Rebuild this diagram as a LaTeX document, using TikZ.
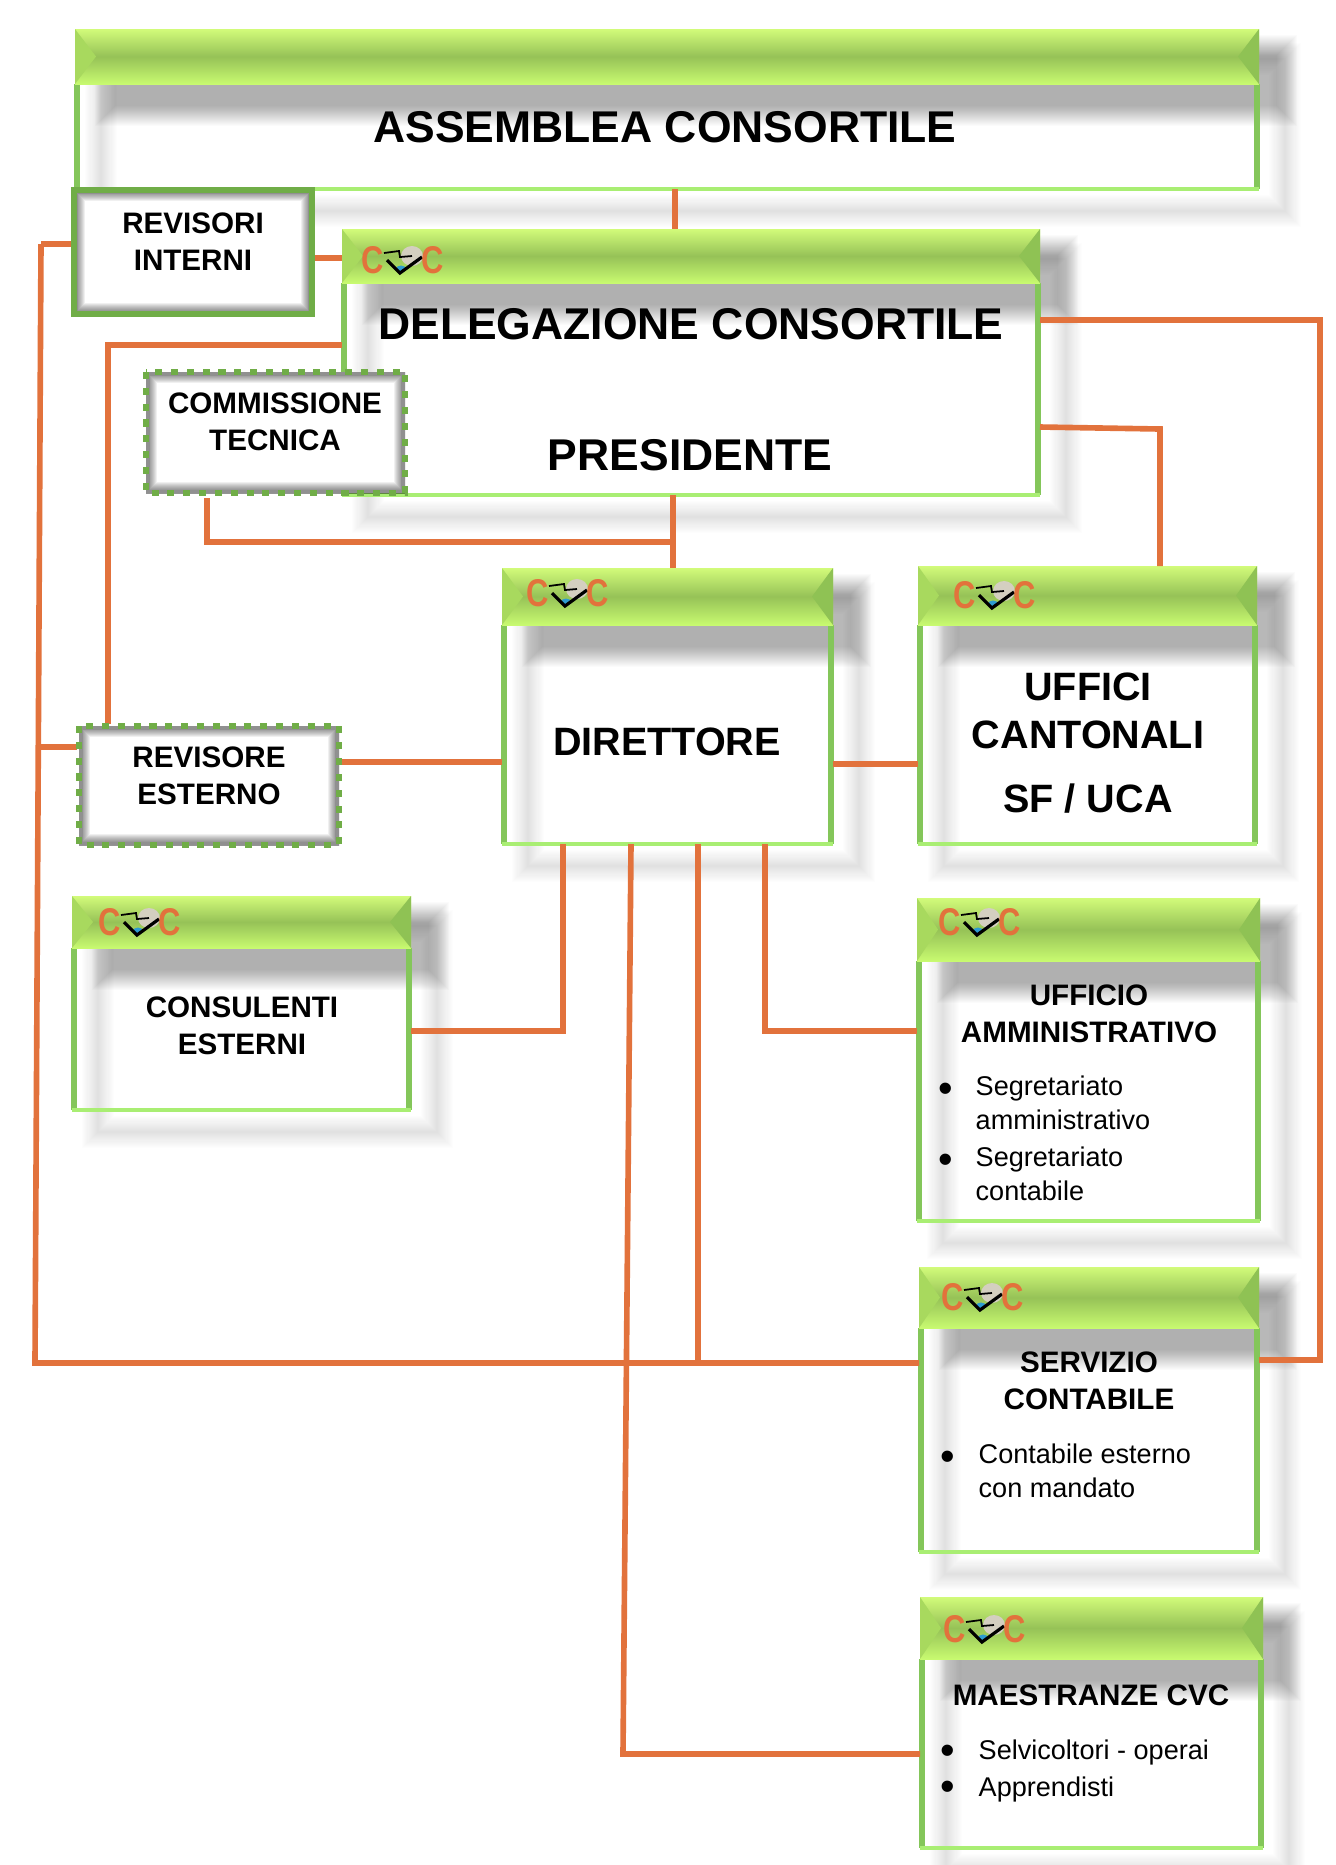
\documentclass[tikz,border=0pt]{standalone}
\usepackage{fontspec}
\setmainfont{Liberation Sans}
\usetikzlibrary{positioning}
\definecolor{linkorange}{HTML}{E2723C}
\definecolor{sidegreen}{HTML}{84C65A}
\definecolor{lowgreen}{HTML}{A9EE73}
\definecolor{framegreen}{HTML}{70AD47}
\definecolor{hdrtop}{HTML}{D2FB7A}
\definecolor{hdrmid}{HTML}{96C257}
\definecolor{hdrlow}{HTML}{C8FA70}
\definecolor{bevelleft}{HTML}{A8D95E}
\definecolor{bevelright}{HTML}{8FC254}
\definecolor{logoblob}{HTML}{D4CFC0}
\definecolor{logoblue}{HTML}{2E9BD0}
\tikzset{
  cvclogo/.pic={
    \fill [logoblob] (9,-4) ellipse (11 and 10);
    \fill [logoblue] (-2,9) ellipse (5 and 3.5);
    \draw [line width=.5pt] (-19,-7) -- (-4,-9) -- (-3,-3) -- (9,-4);
    \draw [line width=.9pt] (-16,0) -- (-3,13) -- (19,-3);
    \node (-cleft) [logoletter] at (-30,0) {C};
    \node (-cright) [logoletter] at (30,0) {C};
  },
  logoletter/.style={text=linkorange, inner sep=0pt, font=\fontsize{11}{12}\bfseries,
         xscale=.8, transform shape}
}
% window: name, left, top, right, bottom of bar, bottom
\newcommand{\winbox}[6]{
  \node (#1) [panel, minimum width={(#4-#2)*0.01cm}, minimum height={(#6-#3)*0.01cm}]
     at ({(#2+#4)/2},{(#3+#6)/2}) {};
  \foreach \w in {0.6,1.2,...,9}
     \draw [black, opacity=.006, line width=\w pt] (#2+26,#3+30) rectangle (#4+26,#6+22);
  \foreach \k in {0,1,...,20}
     \fill [black, opacity=.017] (#2+20+\k,#3+6+\k) rectangle (#4+38-\k,#5+42-\k);
  \draw [sidegreen, line width=1.5pt] (#2+2,#5) -- (#2+2,#6);
  \draw [sidegreen, line width=1.5pt] (#4-2,#5) -- (#4-2,#6);
  \draw [lowgreen, line width=1.4pt] (#1.south west) -- (#1.south east);
  \shade [top color=hdrtop, bottom color=hdrlow, middle color=hdrmid] (#2,#3) rectangle (#4,#5);
  \fill [bevelleft] (#2,#3) -- (#2+21,{(#3+#5)/2}) -- (#2,#5) -- cycle;
  \fill [bevelright] (#4,#3) -- (#4-21,{(#3+#5)/2}) -- (#4,#5) -- cycle;
}
% small box: name, left, top, right, bottom, border style
\newcommand{\glowbox}[6]{
  \node (#1) [panel, minimum width={(#4-#2)*0.01cm}, minimum height={(#5-#3)*0.01cm}]
     at ({(#2+#4)/2},{(#3+#5)/2}) {};
  \begin{scope}
    \clip (#2,#3) rectangle (#4,#5);
    \foreach \w in {2,2.5,...,6}
      \draw [black, opacity=.06, line width=\w pt] (#2,#3) rectangle (#4,#5);
  \end{scope}
  \draw [#6] (#2,#3) rectangle (#4,#5);
}
\begin{document}
\begin{tikzpicture}
  [x=0.01cm, y=-0.01cm,
  panel/.style={fill=white, inner sep=0pt, outer sep=0pt},
  bigcap/.style={font=\fontsize{12.65}{15}\bfseries, align=center, inner sep=0pt},
  midcap/.style={font=\fontsize{11.25}{13.7}\bfseries, align=center, inner sep=0pt},
  smallcap/.style={font=\fontsize{8.42}{10.6}\bfseries, align=center, inner sep=0pt},
  plain/.style={font=\fontsize{7.7}{9.6}\selectfont, align=left, anchor=west, inner sep=0pt},
  dot/.style={font=\fontsize{11.8}{12}\selectfont, anchor=base, inner sep=0pt},
  solidframe/.style={framegreen, line width=1.5pt},
  dashframe/.style={framegreen, line width=1.7pt, dash pattern=on 2pt off 2.5pt}
  ]
  \useasboundingbox (0,0) rectangle (1336,1865);

  \winbox{assemblea}{75}{29}{1259}{84}{189}
  \winbox{delegazione}{342}{229}{1040}{283}{495}
  \winbox{direttore}{502}{568}{833}{625}{844}
  \winbox{uffici}{918}{566}{1257}{625}{844}
  \winbox{consulenti}{72}{896}{411}{948}{1110}
  \winbox{amministrativo}{917}{898}{1260}{961}{1221}
  \winbox{contabile}{919}{1267}{1259}{1328}{1552}
  \winbox{maestranze}{920}{1597}{1263}{1659}{1848}

  \pic (logodel) at (403,260) {cvclogo};
  \pic (logodir) at (568,593) {cvclogo};
  \pic (logouff) at (995,595) {cvclogo};
  \pic (logocon) at (140,922) {cvclogo};
  \pic (logoamm) at (980,922) {cvclogo};
  \pic (logocnt) at (983,1297) {cvclogo};
  \pic (logomae) at (985,1629) {cvclogo};

  \coordinate (trunktop) at (41,244);
  \coordinate (trunkmid) at (39,747);
  \coordinate (trunkbot) at (35,1363);
  \coordinate (cornerint) at (108,345);
  \coordinate (cornercom) at (207,542);
  \coordinate (joincom) at (673,542);
  \coordinate (cornerrightA) at (1320,320);
  \coordinate (cornerrightB) at (1320,1360);
  \coordinate (cornerufA) at (1160,429);
  \coordinate (cornercons) at (563,1031);
  \coordinate (corneramm) at (765,1031);
  \coordinate (joincnt) at (698,1363);
  \coordinate (cornermae) at (623,1754);

  \begin{scope}[line width=1.6pt, linkorange]
   \draw (assemblea.south -| 675,0) to (delegazione.north -| 675,0);
   \draw (delegazione.south -| 673,0) to (direttore.north -| 673,0);
   \draw (207,498) -- (cornercom) -- (joincom);
   \draw (trunktop) -- (72,244);
   \draw (trunktop) -- (trunkbot) -- (contabile.west |- trunkbot);
   \draw (trunkmid) -- (77,747);
   \draw (314,258) to (342,258);
   \draw (delegazione.west |- cornerint) -- (cornerint) -- (108,724);
   \draw (delegazione.east |- cornerrightA) -- (cornerrightA) -- (cornerrightB) -- (contabile.east |- cornerrightB);
   \draw (delegazione.east |- 0,427) -- (cornerufA) -- (uffici.north -| cornerufA);
   \draw (341,762) to (direttore.west |- 0,762);
   \draw (direttore.east |- 0,764) to (uffici.west |- 0,764);
   \draw (consulenti.east |- cornercons) -- (cornercons) -- (direttore.south -| cornercons);
   \draw (direttore.south -| corneramm) -- (corneramm) -- (amministrativo.west |- corneramm);
   \draw (direttore.south -| joincnt) to (joincnt);
   \draw (direttore.south -| 631,0) -- (cornermae) -- (maestranze.west |- cornermae);
  \end{scope}

  \glowbox{interni}{74}{190}{312}{314}{solidframe}
  \glowbox{tecnica}{146}{372}{405}{493}{dashframe}
  \glowbox{esterno}{79}{726}{339}{845}{dashframe}

  \node (txtassemblea) [bigcap] at (665,127) {ASSEMBLEA CONSORTILE};
  \node (txtdelegazione) [bigcap] at (691,324) {DELEGAZIONE CONSORTILE};
  \node (txtpresidente) [bigcap] at (690,455) {PRESIDENTE};
  \node (txtinterni) [smallcap] at (193,242) {REVISORI\\INTERNI};
  \node (txttecnica) [smallcap] at (275,422) {COMMISSIONE\\TECNICA};
  \node (txtesterno) [smallcap] at (209,776) {REVISORE\\ESTERNO};
  \node (txtconsulenti) [smallcap] at (242,1026) {CONSULENTI\\ESTERNI};
  \node (txtdirettore) [midcap] at (667,742) {DIRETTORE};
  \node (txtuffici) [midcap] at (1088,711) {UFFICI\\CANTONALI};
  \node (txtsf) [midcap] at (1088,799) {SF / UCA};
  \node (txtamm) [smallcap] at (1089,1014) {UFFICIO\\AMMINISTRATIVO};
  \node (txtcontabile) [smallcap] at (1089,1381) {SERVIZIO\\CONTABILE};
  \node (txtmaestranze) [smallcap] at (1091,1695) {MAESTRANZE CVC};

  \node (dotsegra) [dot] at (946,1102) {•};
  \node (txtsegra) [plain] at (975,1103) {Segretariato\\amministrativo};
  \node (dotsegrb) [dot] at (946,1173) {•};
  \node (txtsegrb) [plain] at (975,1174) {Segretariato\\contabile};
  \node (dotcnt) [dot] at (948,1470) {•};
  \node (txtcnt) [plain] at (978,1471) {Contabile esterno\\con mandato};
  \node (dotselv) [dot] at (948,1764) {•};
  \node (txtselv) [plain] at (978,1752) {Selvicoltori - operai};
  \node (dotappr) [dot] at (948,1800) {•};
  \node (txtappr) [plain] at (978,1789) {Apprendisti};
\end{tikzpicture}
\end{document}
